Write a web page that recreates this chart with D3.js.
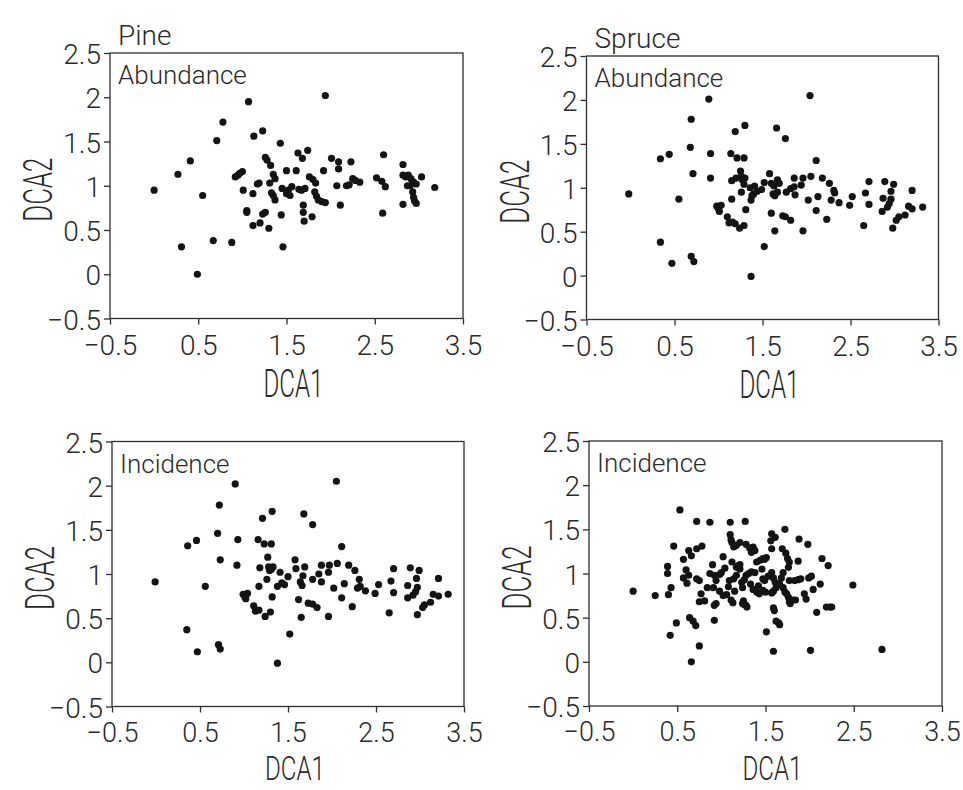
<!DOCTYPE html>
<html>
<head>
<meta charset="utf-8">
<script src="https://cdn.jsdelivr.net/npm/d3@7"></script>
<style>
  html, body { margin: 0; padding: 0; background: #fff; }
  svg { display: block; }
  text { font-family: Roboto, "Liberation Sans", sans-serif; font-weight: 300; fill: #2a2a2a; }
</style>
</head>
<body>
<svg id="chart" width="963" height="790"></svg>
<script>
// ---------- data ----------
const speciesTitles = ["Pine", "Spruce"];
const measureLabels = ["Abundance", "Incidence"];
const xTickValues = [-0.5, 0.5, 1.5, 2.5, 3.5];
const yTickValues = [-0.5, 0, 0.5, 1, 1.5, 2, 2.5];
const xAxisTitle = "DCA1";
const yAxisTitle = "DCA2";

// Pine – abundance  [DCA1, DCA2]
const pineAbundance = [
  [0.00,0.95],[0.27,1.13],[0.41,1.28],[0.55,0.89],[0.31,0.31],[0.49,0.00],[0.67,0.38],[0.88,0.36],
  [0.71,1.51],[0.78,1.72],[1.07,1.95],[1.94,2.02],
  [0.92,1.10],[0.95,1.12],[0.97,1.14],[1.00,1.16],[1.01,0.95],[1.05,0.72],[1.05,0.70],[1.12,0.91],
  [1.12,0.55],[1.13,1.56],[1.23,1.62],[1.17,1.02],[1.19,1.03],[1.20,0.58],[1.23,0.68],[1.26,0.70],
  [1.26,1.32],[1.28,1.29],[1.32,1.23],[1.30,0.52],[1.31,1.03],[1.35,1.13],[1.37,1.08],
  [1.33,0.92],[1.35,0.89],[1.37,0.84],[1.43,1.48],[1.44,0.67],[1.46,0.31],[1.45,0.97],[1.50,1.17],
  [1.50,0.91],[1.54,0.89],[1.56,0.99],[1.61,1.17],[1.63,1.37],[1.68,1.31],[1.74,1.40],[1.64,0.96],
  [1.67,0.95],[1.71,0.97],[1.52,0.95],[1.69,0.78],[1.69,0.70],[1.70,0.60],[1.79,0.65],
  [1.76,1.10],[1.80,1.07],[1.83,1.03],[1.82,0.93],[1.84,0.88],[1.86,0.84],[1.90,0.82],[1.94,0.81],
  [1.92,1.17],[2.01,1.31],[2.09,1.27],[2.09,1.19],[2.07,1.00],[2.11,0.78],[2.23,1.27],
  [2.18,1.00],[2.21,1.01],[2.25,1.08],[2.28,1.06],[2.33,1.04],[2.52,1.09],[2.58,1.05],[2.62,0.99],
  [2.60,1.35],[2.59,0.69],[2.82,1.24],[2.82,1.12],[2.85,1.10],[2.88,1.12],[2.91,1.08],[2.82,0.79],
  [2.87,1.00],[2.90,1.00],[2.94,1.04],[2.97,1.02],[2.93,0.93],[2.94,0.87],[2.95,0.83],[2.97,0.80],
  [3.03,1.10],[3.18,0.98]
];

// Spruce – abundance
const spruceAbundance = [
  [-0.02,0.93],[0.34,1.33],[0.44,1.38],[0.34,0.38],[0.47,0.14],[0.55,0.87],[0.69,1.78],[0.68,1.46],
  [0.71,1.16],[0.69,0.22],[0.72,0.16],[0.89,2.01],[0.91,1.39],[0.91,1.11],
  [0.98,0.79],[1.00,0.76],[1.03,0.80],[1.01,0.73],[1.14,1.39],[1.21,1.34],[1.29,1.34],[1.19,1.64],
  [1.30,1.71],[1.15,0.87],[1.15,1.08],[1.20,1.11],[1.25,1.19],[1.26,1.13],[1.27,1.09],[1.30,1.11],
  [1.29,1.04],[1.26,0.95],[1.31,0.75],[1.10,0.67],[1.12,0.60],[1.16,0.61],[1.19,0.59],[1.24,0.54],
  [1.29,0.57],[1.37,-0.01],[1.37,0.86],[1.40,0.93],[1.44,0.96],[1.49,0.98],[1.38,0.91],[1.41,1.02],
  [1.36,1.00],[1.52,0.33],[1.52,1.06],[1.58,1.16],[1.60,1.05],[1.63,1.02],[1.67,1.09],[1.69,1.05],
  [1.62,0.93],[1.64,0.91],[1.67,0.95],[1.60,0.71],[1.64,0.51],[1.66,1.68],[1.76,1.56],
  [1.73,0.68],[1.76,0.67],[1.82,0.63],[1.77,0.95],[1.82,0.99],[1.86,1.01],[1.87,0.92],[1.86,1.11],
  [1.94,1.03],[1.96,1.11],[1.96,0.51],[2.02,0.86],[2.04,2.05],[2.05,1.13],[2.11,1.31],[2.11,0.74],
  [2.13,0.90],[2.18,1.11],[2.26,1.05],[2.31,0.97],[2.28,0.86],[2.32,0.94],[2.23,0.64],
  [2.37,0.83],[2.49,0.80],[2.52,0.90],[2.67,0.94],[2.71,1.07],[2.71,0.81],[2.65,0.57],
  [2.89,1.07],[2.99,1.04],[2.96,0.96],[2.87,0.88],[2.96,0.87],[2.86,0.73],[2.92,0.78],[2.94,0.82],
  [2.98,0.54],[3.02,0.63],[3.05,0.67],[3.12,0.69],[3.16,0.79],[3.20,0.76],[3.20,0.97],[3.32,0.78]
];

// Pine – incidence
const pineIncidence = [
  [-0.01,0.91],[0.36,1.32],[0.46,1.38],[0.35,0.37],[0.47,0.12],[0.56,0.86],[0.72,1.78],[0.70,1.46],
  [0.73,1.16],[0.71,0.20],[0.73,0.15],[0.90,2.02],[0.93,1.39],[0.92,1.10],
  [0.99,0.77],[1.01,0.74],[1.04,0.78],[1.02,0.72],[1.16,1.39],[1.23,1.34],[1.31,1.34],[1.21,1.63],
  [1.32,1.71],[1.17,0.86],[1.18,1.07],[1.26,0.94],[1.27,1.19],[1.28,1.08],[1.31,1.05],[1.29,1.04],
  [1.33,1.08],[1.32,0.74],[1.11,0.64],[1.13,0.58],[1.17,0.59],[1.24,0.52],[1.30,0.57],[1.38,-0.01],
  [1.38,0.86],[1.41,1.02],[1.43,0.90],[1.46,0.88],[1.50,0.97],[1.58,1.16],[1.59,1.06],[1.52,0.32],
  [1.62,0.71],[1.65,0.51],[1.64,0.91],[1.66,0.87],[1.67,0.98],[1.69,1.08],[1.68,1.68],[1.78,1.56],
  [1.73,0.67],[1.78,0.66],[1.83,0.62],[1.78,0.94],[1.85,1.00],[1.88,0.91],[1.88,1.10],[1.96,1.02],
  [1.97,1.10],[1.96,0.52],[2.02,0.84],[2.05,2.05],[2.06,1.12],[2.11,1.31],[2.11,0.73],[2.14,0.89],
  [2.19,1.10],[2.26,1.04],[2.31,0.94],[2.29,0.84],[2.32,0.86],[2.23,0.63],
  [2.38,0.81],[2.49,0.78],[2.53,0.88],[2.67,0.92],[2.70,1.06],[2.70,0.79],[2.65,0.56],
  [2.89,1.07],[2.99,1.04],[2.96,0.95],[2.86,0.87],[2.97,0.85],[2.86,0.73],[2.92,0.76],[2.95,0.80],
  [2.97,0.54],[3.03,0.62],[3.05,0.65],[3.12,0.68],[3.15,0.77],[3.21,0.75],[3.21,0.95],[3.32,0.77]
];

// Spruce – incidence
const spruceIncidence = [
  [0.53,1.72],[0.72,1.59],[0.87,1.58],[1.10,1.58],[1.27,1.59],[1.72,1.50],
  [1.10,1.44],[1.11,1.38],[1.12,1.35],[1.14,1.30],[1.17,1.32],[1.21,1.35],[1.28,1.33],[1.32,1.29],
  [1.36,1.30],[1.34,1.24],[1.38,1.26],[1.57,1.45],[1.61,1.41],[1.56,1.37],[1.57,1.28],[1.69,1.28],
  [1.73,1.23],[1.75,1.17],[1.77,1.13],[1.76,1.07],[1.88,1.39],[1.98,1.33],[1.87,1.14],[2.14,1.17],
  [2.21,1.09],[0.46,1.31],[0.57,1.16],[0.63,1.26],[0.66,1.20],[0.72,1.28],[0.78,1.31],[0.39,1.08],
  [0.39,1.00],[0.00,0.80],[0.25,0.75],[0.40,0.76],[0.43,0.84],[0.57,0.95],[0.60,1.04],[0.63,0.98],
  [0.61,0.89],[0.72,0.94],[0.75,0.92],[0.64,0.50],[0.68,0.46],[0.71,0.41],[0.49,0.44],[0.42,0.30],
  [0.75,0.18],[0.66,0.00],[0.77,0.77],[0.75,0.68],[0.81,0.69],[0.92,0.47],[0.92,0.64],[0.94,0.66],
  [0.90,1.10],[0.87,1.00],[0.92,0.98],[0.94,0.92],[0.91,0.84],[1.02,1.19],[1.04,1.06],[0.98,0.99],
  [0.98,0.80],[1.02,0.75],[1.06,0.76],[1.11,0.70],[1.13,0.67],[1.09,0.92],[1.14,0.94],[1.17,0.98],
  [1.19,1.09],[1.21,1.05],[1.23,0.90],[1.24,0.84],[1.26,0.93],[1.28,0.98],[1.12,1.13],[1.17,1.07],
  [1.21,1.10],[1.25,0.69],[1.26,0.65],[1.29,0.62],[1.31,1.00],[1.34,1.02],[1.38,1.01],[1.40,0.79],
  [1.43,0.77],[1.47,0.94],[1.49,0.92],[1.47,0.81],[1.50,0.79],[1.40,1.13],[1.44,1.15],[1.47,1.17],
  [1.49,1.16],[1.51,1.18],[1.57,1.01],[1.59,0.95],[1.61,0.90],[1.62,0.84],[1.57,0.78],[1.59,0.80],
  [1.66,0.88],[1.70,0.84],[1.72,0.79],[1.74,0.77],[1.76,0.73],[1.77,0.68],[1.78,0.66],[1.81,0.70],
  [1.84,0.70],[1.70,1.01],[1.77,0.92],[1.83,0.92],[1.87,0.93],[1.90,0.94],[1.99,0.95],[2.02,0.97],
  [1.94,0.77],[1.96,0.71],[2.04,0.82],[2.08,0.56],[2.12,0.88],[2.19,0.62],[2.23,0.62],[2.25,0.62],
  [2.49,0.87],[1.59,0.61],[1.60,0.58],[1.62,0.46],[1.65,0.44],[1.66,0.42],[1.51,0.34],[1.59,0.12],
  [2.01,0.13],[2.82,0.14],[1.24,0.66],[1.28,0.64],[1.36,0.82],[1.42,0.86],[1.53,0.97],[1.46,1.05],
  [1.08,0.85],[1.00,1.01],[0.84,0.84],[1.15,0.80],[1.33,0.88],[1.68,0.95]
];

// ---------- layout ----------
const panelData = [pineAbundance, spruceAbundance, pineIncidence, spruceIncidence];
const panelBoxes = [
  {left: 110,   right: 463,   top: 53,    bottom: 318.5},
  {left: 586.5, right: 938.5, top: 56,    bottom: 319.5},
  {left: 112,   right: 464,   top: 441.5, bottom: 706.5},
  {left: 589,   right: 942,   top: 441,   bottom: 706}
];

const svg = d3.select("#chart");
svg.append("rect").attr("width", 963).attr("height", 790).attr("fill", "#fff");

const fmt = d => String(d).replace("-", "\u2212");
const ink = "#2e2e2e";

panelData.forEach((data, i) => {
  const b = panelBoxes[i];
  const row = Math.floor(i / 2), col = i % 2;
  const x = d3.scaleLinear().domain([-0.5, 3.5]).range([b.left, b.right]);
  const y = d3.scaleLinear().domain([-0.5, 2.5]).range([b.bottom, b.top]);
  const g = svg.append("g");

  // frame
  g.append("rect")
    .attr("x", b.left).attr("y", b.top)
    .attr("width", b.right - b.left).attr("height", b.bottom - b.top)
    .attr("fill", "none").attr("stroke", ink).attr("stroke-width", 1.3);

  // x axis
  const xa = g.append("g").attr("transform", `translate(0,${b.bottom})`)
    .call(d3.axisBottom(x).tickValues(xTickValues).tickSize(6).tickSizeOuter(0).tickFormat(fmt));
  xa.select(".domain").remove();
  xa.selectAll(".tick line").attr("stroke", ink).attr("stroke-width", 1.3);
  xa.selectAll(".tick text")
    .attr("y", row === 0 ? 36 : 35).attr("dy", null)
    .attr("font-size", row === 0 ? 28 : 27).attr("fill", "#2a2a2a")
    .style("font-family", "Roboto, 'Liberation Sans', sans-serif").style("font-weight", 300);

  // y axis
  const ya = g.append("g").attr("transform", `translate(${b.left},0)`)
    .call(d3.axisLeft(y).tickValues(yTickValues).tickSize(6).tickSizeOuter(0).tickFormat(fmt));
  ya.select(".domain").remove();
  ya.selectAll(".tick line").attr("stroke", ink).attr("stroke-width", 1.3);
  ya.selectAll(".tick text")
    .attr("x", -9).attr("dy", null).attr("y", 10.5)
    .attr("font-size", 28).attr("fill", "#2a2a2a")
    .style("font-family", "Roboto, 'Liberation Sans', sans-serif").style("font-weight", 300);

  // axis titles (tall, condensed lettering)
  const cx = (b.left + b.right) / 2 + 7;
  g.append("text")
    .attr("x", cx).attr("y", row === 0 ? b.bottom + 78 : 780)
    .attr("text-anchor", "middle")
    .attr("font-size", row === 0 ? 38 : 33)
    .attr("textLength", 60).attr("lengthAdjust", "spacingAndGlyphs")
    .text(xAxisTitle);
  const cy = (b.top + b.bottom) / 2 + 4;
  g.append("text")
    .attr("transform", `translate(${b.left - 58},${cy}) rotate(-90)`)
    .attr("text-anchor", "middle")
    .attr("font-size", 41)
    .attr("textLength", 64).attr("lengthAdjust", "spacingAndGlyphs")
    .text(yAxisTitle);

  // inner label
  g.append("text")
    .attr("x", b.left + 8).attr("y", b.top + 31)
    .attr("font-size", 26)
    .text(measureLabels[row]);

  // species title above top row
  if (row === 0) {
    g.append("text")
      .attr("x", b.left + 8).attr("y", b.top - 8)
      .attr("font-size", 28)
      .text(speciesTitles[col]);
  }

  // points
  g.append("g").selectAll("circle").data(data).join("circle")
    .attr("cx", d => x(d[0])).attr("cy", d => y(d[1]))
    .attr("r", 3.6).attr("fill", "#141414");
});
</script>
</body>
</html>
